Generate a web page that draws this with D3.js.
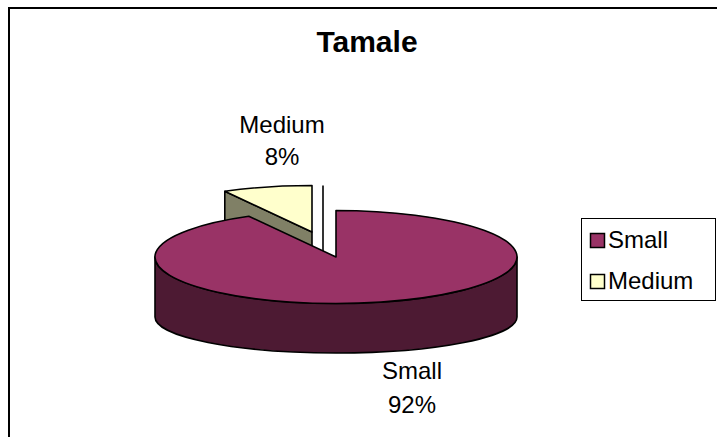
<!DOCTYPE html>
<html>
<head>
<meta charset="utf-8">
<script src="https://cdn.jsdelivr.net/npm/d3@7"></script>
<style>
  html, body { margin: 0; padding: 0; background: #fff; }
  svg { display: block; font-family: "Liberation Sans", Arial, sans-serif; }
</style>
</head>
<body>
<svg id="chart" width="717" height="437"></svg>
<script>
// ---- data ----
const chartTitle = "Tamale";
const categories = ["Small", "Medium"];
const values = [92, 8];
const percentLabels = ["92%", "8%"];
const colorsTop = ["#993366", "#FFFFCC"];
const colorsSide = ["#4D1A33", "#808066"];

// ---- layout ----
const W = 717, H = 437;
const cx = 336, cy = 257, rx = 181, ry = 46.5;   // top ellipse
const depth = 60, ryBottom = 36;                 // bottom ellipse (perspective)
const explode = { Medium: [-24, -25], Small: [0, 0] };
const ghostShift = 11;                            // stray edge of the exploded slice

const svg = d3.select("#chart");

// chart border
svg.append("rect")
  .attr("x", 9).attr("y", 8).attr("width", W + 40).attr("height", H + 40)
  .attr("fill", "#fff").attr("stroke", "#000").attr("stroke-width", 2);

// title
svg.append("text")
  .attr("x", 367).attr("y", 52)
  .attr("text-anchor", "middle")
  .attr("font-size", 30).attr("font-weight", "bold")
  .text(chartTitle);

const pie = d3.pie().sort(null).value(d => d)(values);

function topPt(a, off) { return [cx + off[0] + rx * Math.sin(a), cy + off[1] - ry * Math.cos(a)]; }
function botPt(a, off) { return [cx + off[0] + rx * Math.sin(a), cy + depth + off[1] - ryBottom * Math.cos(a)]; }
const P = p => p[0].toFixed(2) + "," + p[1].toFixed(2);

const g = svg.append("g");
const stroke = { stroke: "#000", "stroke-width": 1.6, "stroke-linejoin": "round" };
function styled(sel) { Object.entries(stroke).forEach(([k, v]) => sel.attr(k, v)); return sel; }

// ---- Medium slice (exploded, behind) ----
const m = pie[1];
const mOff = explode[categories[1]];
const mV = [cx + mOff[0], cy + mOff[1]];
const mVb = [cx + mOff[0], cy + depth + mOff[1]];
// visible cut face at start angle
styled(g.append("path")
  .attr("d", `M${P(mV)} L${P(topPt(m.startAngle, mOff))} L${P(botPt(m.startAngle, mOff))} L${P(mVb)} Z`)
  .attr("fill", colorsSide[1]));
// top face
styled(g.append("path")
  .attr("d", `M${P(mV)} L${P(topPt(m.startAngle, mOff))} A${rx},${ry} 0 ${(m.endAngle - m.startAngle) > Math.PI ? 1 : 0} 1 ${P(topPt(m.endAngle, mOff))} Z`)
  .attr("fill", colorsTop[1]));
// stray vertical edge of the exploded slice's back face
const backTop = topPt(m.endAngle, mOff);
styled(g.append("line")
  .attr("x1", backTop[0] + ghostShift).attr("y1", backTop[1])
  .attr("x2", backTop[0] + ghostShift).attr("y2", mV[1] + 28)
  .attr("fill", "none"));

// ---- Small slice ----
const s = pie[0];
const sOff = explode[categories[0]];
const a0 = Math.PI / 2, a1 = 3 * Math.PI / 2;     // visible front of the rim
styled(g.append("path")
  .attr("d", `M${P(topPt(a0, sOff))} A${rx},${ry} 0 0 1 ${P(topPt(a1, sOff))} L${P(botPt(a1, sOff))} A${rx},${ryBottom} 0 0 0 ${P(botPt(a0, sOff))} Z`)
  .attr("fill", colorsSide[0]));
const sV = [cx + sOff[0], cy + sOff[1]];
styled(g.append("path")
  .attr("d", `M${P(sV)} L${P(topPt(s.startAngle, sOff))} A${rx},${ry} 0 ${(s.endAngle - s.startAngle) > Math.PI ? 1 : 0} 1 ${P(topPt(s.endAngle, sOff))} Z`)
  .attr("fill", colorsTop[0]));

// ---- data labels ----
const labelPos = { Small: [412, 379], Medium: [282, 133] };
const lineGap = 32;
categories.forEach((c, i) => {
  const t = svg.append("text")
    .attr("text-anchor", "middle").attr("font-size", 24).attr("fill", "#000");
  t.append("tspan").attr("x", labelPos[c][0]).attr("y", labelPos[c][1]).text(c);
  t.append("tspan").attr("x", labelPos[c][0]).attr("y", labelPos[c][1] + (c === "Small" ? 34 : lineGap)).text(percentLabels[i]);
});

// ---- legend ----
const lg = svg.append("g");
lg.append("rect").attr("x", 581.5).attr("y", 218.5).attr("width", 134).attr("height", 82)
  .attr("fill", "#fff").attr("stroke", "#000").attr("stroke-width", 1);
const ly = d3.scalePoint().domain(categories).range([248, 289]);
categories.forEach((c, i) => {
  lg.append("rect").attr("x", 590.5).attr("y", ly(c) - 14.5).attr("width", 14).attr("height", 14)
    .attr("fill", colorsTop[i]).attr("stroke", "#000").attr("stroke-width", 1.5);
  lg.append("text").attr("x", 608).attr("y", ly(c)).attr("font-size", 24).text(c);
});
</script>
</body>
</html>
